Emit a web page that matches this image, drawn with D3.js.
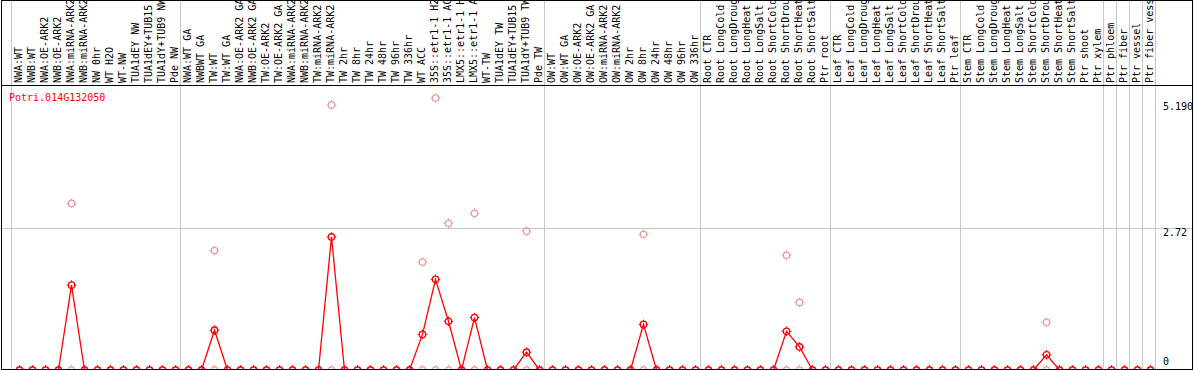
<!DOCTYPE html>
<html>
<head>
<meta charset="utf-8">
<title>Potri.014G132050</title>
<script src="https://cdn.jsdelivr.net/npm/d3@7"></script>
<style>
  html, body { margin: 0; padding: 0; background: #fff; }
  svg { display: block; }
  text { font-family: "DejaVu Sans Mono", monospace; font-size: 10px; }
</style>
</head>
<body>
<div id="chart"></div>
<script>
// ============================================================
//  Data
// ============================================================

const geneId = 'Potri.014G132050';

const sampleLabels = [
  // NW
  'NWA:WT', 'NWB:WT', 'NWA:OE-ARK2', 'NWB:OE-ARK2', 'NWA:miRNA-ARK2', 'NWB:miRNA-ARK2',
  'NW 0hr', 'WT H2O', 'WT-NW', 'TUA1dEY NW', 'TUA1dEY+TUB15', 'TUA1dY+TUB9 NW', 'Pde NW',
  // TW
  'NWA:WT GA', 'NWBWT GA', 'TW:WT', 'TW:WT GA', 'NWA:OE-ARK2 GA', 'NWB:OE-ARK2 GA',
  'TW:OE-ARK2', 'TW:OE-ARK2 GA', 'NWA:miRNA-ARK2', 'NWB:miRNA-ARK2', 'TW:miRNA-ARK2', 'TW:miRNA-ARK2',
  'TW 2hr', 'TW 8hr', 'TW 24hr', 'TW 48hr', 'TW 96hr', 'TW 336hr', 'WT ACC',
  '35S::etr1-1 H2', '35S::etr1-1 AC', 'LMX5::etr1-1 H', 'LMX5::etr1-1 A', 'WT-TW',
  'TUA1dEY TW', 'TUA1dEY+TUB15', 'TUA1dY+TUB9 TW', 'Pde TW',
  // OW
  'OW:WT', 'OW:WT GA', 'OW:OE-ARK2', 'OW:OE-ARK2 GA', 'OW:miRNA-ARK2', 'OW:miRNA-ARK2',
  'OW 2hr', 'OW 8hr', 'OW 24hr', 'OW 48hr', 'OW 96hr', 'OW 336hr',
  // Root
  'Root CTR', 'Root LongCold', 'Root LongDroug', 'Root LongHeat', 'Root LongSalt',
  'Root ShortCold', 'Root ShortDrou', 'Root ShortHeat', 'Root ShortSalt', 'Ptr root',
  // Leaf
  'Leaf CTR', 'Leaf LongCold', 'Leaf LongDroug', 'Leaf LongHeat', 'Leaf LongSalt',
  'Leaf ShortCold', 'Leaf ShortDrou', 'Leaf ShortHeat', 'Leaf ShortSalt', 'Ptr leaf',
  // Stem
  'Stem CTR', 'Stem LongCold', 'Stem LongDroug', 'Stem LongHeat', 'Stem LongSalt',
  'Stem ShortCold', 'Stem ShortDrou', 'Stem ShortHeat', 'Stem ShortSalt', 'Ptr shoot', 'Ptr xylem',
  // single tissues
  'Ptr phloem', 'Ptr fiber', 'Ptr vessel', 'Ptr fiber vess'
];

// number of samples in each block between grey separators
const groupSizes = [13, 28, 12, 10, 10, 11, 1, 1, 1, 1];

// mean expression (red line)
const meanValues = [
  0, 0, 0, 0, 1.62, 0, 0, 0, 0, 0, 0, 0, 0,
  0, 0, 0.76, 0, 0, 0, 0, 0, 0, 0, 0, 2.54, 0, 0, 0, 0, 0, 0, 0.68, 1.73, 0.93, 0, 1.0, 0, 0, 0, 0.34, 0,
  0, 0, 0, 0, 0, 0, 0, 0.87, 0, 0, 0, 0,
  0, 0, 0, 0, 0, 0, 0.74, 0.44, 0, 0,
  0, 0, 0, 0, 0, 0, 0, 0, 0, 0,
  0, 0, 0, 0, 0, 0, 0.29, 0, 0, 0, 0,
  0, 0, 0, 0
];

// individual replicates (pink circles)
const replicateA = [
  0, 0, 0, 0, 3.18, 0, 0, 0, 0, 0, 0, 0, 0,
  0, 0, 2.28, 0, 0, 0, 0, 0, 0, 0, 0, 5.06, 0, 0, 0, 0, 0, 0, 2.06, 5.19, 2.80, 0, 2.99, 0, 0, 0, 2.65, 0,
  0, 0, 0, 0, 0, 0, 0, 2.59, 0, 0, 0, 0,
  0, 0, 0, 0, 0, 0, 2.19, 1.29, 0, 0,
  0, 0, 0, 0, 0, 0, 0, 0, 0, 0,
  0, 0, 0, 0, 0, 0, 0.91, 0, 0, 0, 0,
  0, 0, 0, 0
];
const replicateB = [
  0, 0, 0, 0, 0, 0, 0, 0, 0, 0, 0, 0, 0,
  0, 0, 0, 0, 0, 0, 0, 0, 0, 0, 0, 0, 0, 0, 0, 0, 0, 0, 0, 0, 0, 0, 0, 0, 0, 0, 0, 0,
  0, 0, 0, 0, 0, 0, 0, 0, 0, 0, 0, 0,
  0, 0, 0, 0, 0, 0, 0, 0, 0, 0,
  0, 0, 0, 0, 0, 0, 0, 0, 0, 0,
  0, 0, 0, 0, 0, 0, 0, 0, 0, 0, 0,
  0, 0, 0, 0
];

const yMax = 5.44;
const yTicks = [0, 2.72, 5.19];
const yTickLabels = ['0', '2.72', '5.190'];

// ============================================================
//  Layout
// ============================================================

const W = 1194, H = 370;
const plotLeft = 11, plotRight = 1155;
const labelBottom = 85; // black line under the sample labels
const RED = '#ff0000';
const PINK = '#ec9a9a';
const GRID = '#c8c8c8';

const svg = d3.select('#chart').append('svg')
  .attr('width', W).attr('height', H)
  .attr('viewBox', `0 0 ${W} ${H}`);

const x = d3.scaleBand().domain(d3.range(sampleLabels.length)).range([plotLeft, plotRight]);
const cx = i => x(i) + 8.5;
const y = d3.scaleLinear().domain([0, yMax]).range([370, labelBottom]);

// ============================================================
//  Grid & frame
// ============================================================

const bounds = [0];
groupSizes.forEach(n => bounds.push(bounds[bounds.length - 1] + n));

svg.append('g').selectAll('line')
  .data(bounds)
  .join('line')
  .attr('x1', k => (k < sampleLabels.length ? x(k) : plotRight) + 0.5)
  .attr('x2', k => (k < sampleLabels.length ? x(k) : plotRight) + 0.5)
  .attr('y1', 0).attr('y2', H)
  .attr('stroke', GRID).attr('shape-rendering', 'crispEdges');

svg.append('line')
  .attr('x1', 0).attr('x2', W)
  .attr('y1', Math.round(y(yTicks[1])) + 0.5).attr('y2', Math.round(y(yTicks[1])) + 0.5)
  .attr('stroke', GRID).attr('shape-rendering', 'crispEdges');

// ============================================================
//  Sample labels & axis labels
// ============================================================

svg.append('g').selectAll('text')
  .data(sampleLabels)
  .join('text')
  .attr('transform', (d, i) => `translate(${cx(i) + 2},${labelBottom - 2}) rotate(-90)`)
  .attr('fill', '#000')
  .text(d => d);

svg.append('text')
  .attr('x', 9).attr('y', 101)
  .attr('fill', RED)
  .text(geneId);

svg.append('g').selectAll('text')
  .data(yTicks)
  .join('text')
  .attr('x', 1163)
  .attr('y', (v, i) => i === 0 ? y(v) - 5 : (i === yTicks.length - 1 ? y(v) + 12 : y(v) + 8))
  .attr('fill', '#000')
  .text((v, i) => yTickLabels[i]);

// ============================================================
//  Marks
// ============================================================

function marker(g, color) {
  g.append('circle').attr('r', 3.2).attr('fill', 'none').attr('stroke', color).attr('stroke-width', 1.3);
  g.append('path')
    .attr('d', 'M0,-3.2V-4.8M0,3.2V4.8M-3.2,0H-4.8M3.2,0H4.8')
    .attr('stroke', color).attr('stroke-width', 1);
}

const replicates = [replicateA, replicateB];
replicates.forEach(series => {
  svg.append('g').selectAll('g')
    .data(series)
    .join('g')
    .attr('transform', (v, i) => `translate(${cx(i)},${y(v)})`)
    .each(function () { marker(d3.select(this), PINK); });
});

svg.append('path')
  .datum(meanValues)
  .attr('fill', 'none')
  .attr('stroke', RED)
  .attr('stroke-width', 1.3)
  .attr('d', d3.line().x((v, i) => cx(i)).y(v => y(v)));

svg.append('g').selectAll('g')
  .data(meanValues)
  .join('g')
  .attr('transform', (v, i) => `translate(${cx(i)},${y(v)})`)
  .each(function () { marker(d3.select(this), RED); });

// frame
svg.append('rect')
  .attr('x', 1.5).attr('y', 0.5).attr('width', 1191).attr('height', 368.5)
  .attr('fill', 'none').attr('stroke', '#000').attr('shape-rendering', 'crispEdges');
svg.append('line')
  .attr('x1', 1).attr('x2', 1193)
  .attr('y1', labelBottom + 0.5).attr('y2', labelBottom + 0.5)
  .attr('stroke', '#000').attr('shape-rendering', 'crispEdges');
</script>
</body>
</html>
